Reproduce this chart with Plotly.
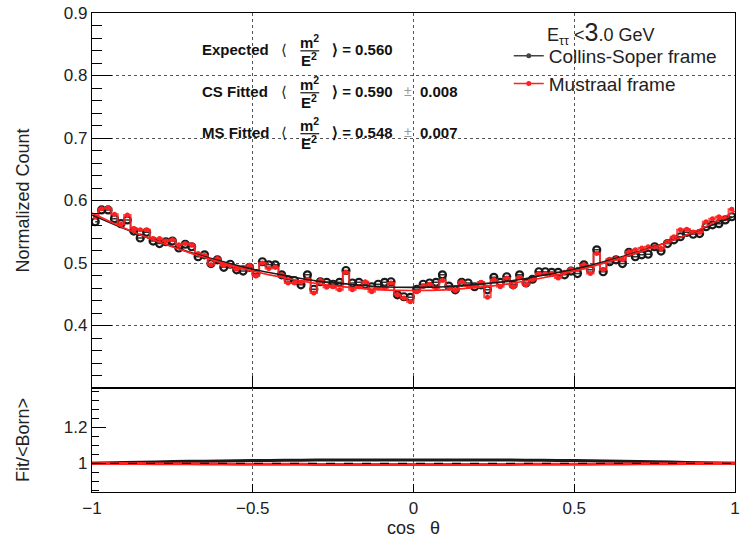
import numpy as np
import plotly.graph_objects as go

# ---------------- data ----------------
n_bins = 100
cs_counts = [0.566, 0.585, 0.585, 0.571, 0.563, 0.569, 0.551, 0.540, 0.549, 0.535,
             0.531, 0.534, 0.535, 0.524, 0.530, 0.526, 0.510, 0.513, 0.499, 0.505,
             0.493, 0.498, 0.489, 0.487, 0.493, 0.483, 0.502, 0.497, 0.497, 0.481,
             0.473, 0.472, 0.465, 0.481, 0.458, 0.470, 0.469, 0.466, 0.469, 0.488,
             0.468, 0.469, 0.465, 0.462, 0.466, 0.469, 0.470, 0.449, 0.446, 0.445,
             0.458, 0.466, 0.468, 0.469, 0.481, 0.463, 0.457, 0.469, 0.468, 0.462,
             0.465, 0.457, 0.477, 0.469, 0.478, 0.465, 0.481, 0.468, 0.474, 0.486,
             0.486, 0.485, 0.485, 0.481, 0.487, 0.483, 0.497, 0.489, 0.521, 0.486,
             0.502, 0.505, 0.499, 0.517, 0.510, 0.513, 0.514, 0.526, 0.519, 0.531,
             0.537, 0.542, 0.549, 0.546, 0.547, 0.558, 0.561, 0.563, 0.569, 0.574]
ms_counts = [0.574, 0.587, 0.588, 0.578, 0.562, 0.577, 0.555, 0.553, 0.553, 0.539,
             0.539, 0.535, 0.537, 0.529, 0.531, 0.529, 0.515, 0.512, 0.497, 0.507,
             0.496, 0.496, 0.490, 0.493, 0.496, 0.479, 0.500, 0.491, 0.493, 0.481,
             0.468, 0.468, 0.469, 0.474, 0.452, 0.472, 0.461, 0.462, 0.457, 0.485,
             0.457, 0.462, 0.470, 0.454, 0.460, 0.460, 0.468, 0.449, 0.444, 0.438,
             0.454, 0.463, 0.466, 0.460, 0.472, 0.461, 0.456, 0.470, 0.463, 0.463,
             0.469, 0.445, 0.473, 0.462, 0.476, 0.462, 0.477, 0.465, 0.473, 0.483,
             0.483, 0.483, 0.476, 0.485, 0.490, 0.490, 0.497, 0.483, 0.515, 0.489,
             0.506, 0.507, 0.505, 0.518, 0.521, 0.524, 0.526, 0.526, 0.523, 0.534,
             0.542, 0.553, 0.554, 0.549, 0.549, 0.566, 0.571, 0.574, 0.571, 0.586]

fit_x = [-1.0, -0.9, -0.8, -0.7, -0.6, -0.5, -0.4, -0.3, -0.2, -0.1, 0.0,
         0.1, 0.2, 0.3, 0.4, 0.5, 0.6, 0.7, 0.8, 0.9, 1.0]
cs_fit = [0.577, 0.555, 0.535, 0.518, 0.503, 0.490, 0.480, 0.471, 0.466, 0.462, 0.461,
          0.462, 0.466, 0.471, 0.480, 0.490, 0.503, 0.518, 0.535, 0.555, 0.575]
ms_fit = [0.580, 0.556, 0.535, 0.517, 0.501, 0.487, 0.476, 0.467, 0.461, 0.457, 0.456,
          0.457, 0.461, 0.467, 0.476, 0.487, 0.501, 0.517, 0.535, 0.556, 0.583]
cs_ratio = [1.000, 1.004, 1.008, 1.011, 1.013, 1.015, 1.017, 1.018, 1.019, 1.019, 1.019,
            1.019, 1.019, 1.018, 1.017, 1.015, 1.013, 1.010, 1.007, 1.003, 1.000]
ms_ratio = [1.000, 0.999, 0.998, 0.997, 0.996, 0.995, 0.995, 0.994, 0.994, 0.994, 0.994,
            0.994, 0.994, 0.994, 0.995, 0.995, 0.996, 0.997, 0.998, 0.999, 1.000]

x_ticks = [-1, -0.5, 0, 0.5, 1]
y_ticks_top = [0.4, 0.5, 0.6, 0.7, 0.8, 0.9]
y_ticks_bot = [1, 1.2]

edges = np.linspace(-1, 1, n_bins + 1)
centers = 0.5 * (edges[:-1] + edges[1:])

BLACK = "#1a1a1a"
RED = "#ff2020"
FONT = "Liberation Sans, Arial, sans-serif"
GRID = "#555555"

fig = go.Figure()

# histograms (steps + markers)
fig.add_trace(go.Scatter(x=centers, y=cs_counts, mode="lines+markers", line_shape="hvh",
                         line=dict(color="#333333", width=1.5),
                         marker=dict(symbol="circle-open", size=7, color=BLACK, line=dict(width=2.2)),
                         showlegend=False, xaxis="x", yaxis="y"))
fig.add_trace(go.Scatter(x=centers, y=ms_counts, mode="lines+markers", line_shape="hvh",
                         line=dict(color="rgba(255,40,40,0.85)", width=2),
                         marker=dict(symbol="circle", size=5, color=RED),
                         showlegend=False, xaxis="x", yaxis="y"))
# fits
fig.add_trace(go.Scatter(x=fit_x, y=cs_fit, mode="lines", line=dict(color=BLACK, width=1.6, shape="spline"),
                         showlegend=False, xaxis="x", yaxis="y"))
fig.add_trace(go.Scatter(x=fit_x, y=ms_fit, mode="lines", line=dict(color=RED, width=1.6, shape="spline"),
                         showlegend=False, xaxis="x", yaxis="y"))
# legend entries
fig.add_trace(go.Scatter(x=[None], y=[None], mode="lines+markers", name="Collins-Soper frame",
                         line=dict(color="#444444", width=1.5), marker=dict(size=5, color="#444444"),
                         xaxis="x", yaxis="y"))
fig.add_trace(go.Scatter(x=[None], y=[None], mode="lines+markers", name="Mustraal frame",
                         line=dict(color=RED, width=1.5), marker=dict(size=5, color=RED),
                         xaxis="x", yaxis="y"))

# ratio panel
fig.add_trace(go.Scatter(x=fit_x, y=cs_ratio, mode="lines", line=dict(color=BLACK, width=3, shape="spline"),
                         showlegend=False, xaxis="x2", yaxis="y2"))
fig.add_trace(go.Scatter(x=fit_x, y=ms_ratio, mode="lines", line=dict(color=RED, width=3, shape="spline"),
                         showlegend=False, xaxis="x2", yaxis="y2"))
fig.add_trace(go.Scatter(x=[-1, 1], y=[1, 1], mode="lines", line=dict(color="black", width=1.3, dash="dash"),
                         showlegend=False, xaxis="x2", yaxis="y2"))

split = 104 / 479

axis_common = dict(showline=True, linecolor="black", linewidth=1.2, mirror=True, zeroline=False,
                   tickfont=dict(family=FONT, size=17, color="#222"))
title_font = dict(family=FONT, size=18, color="#222")

fig.update_layout(
    width=741, height=541,
    margin=dict(l=92, r=1, t=13, b=49),
    paper_bgcolor="white", plot_bgcolor="white",
    font=dict(family=FONT, color="#222"),
    xaxis=dict(domain=[0, 1], anchor="y", range=[-1, 1], tickvals=x_ticks, showticklabels=False,
               ticks="inside", ticklen=12, tickcolor="black",
               showgrid=True, griddash="dot", gridcolor=GRID, gridwidth=1, **axis_common),
    yaxis=dict(domain=[split, 1], anchor="x", range=[0.3, 0.9], tickvals=y_ticks_top,
               ticktext=[f"{v:.1f}" for v in y_ticks_top],
               ticks="inside", ticklen=20, tickcolor="black",
               minor=dict(dtick=0.02, tick0=0.3, ticks="inside", ticklen=10, tickcolor="black", showgrid=False),
               showgrid=True, griddash="dot", gridcolor=GRID, gridwidth=1,
               title=dict(text="Normalized Count", font=title_font, standoff=29),
               **axis_common),
    xaxis2=dict(domain=[0, 1], anchor="y2", range=[-1, 1], tickvals=x_ticks,
                ticktext=["\u22121", "\u22120.5", "0", "0.5", "1"], ticklabeloverflow="allow",
                ticks="inside", ticklen=8, tickcolor="black",
                showgrid=True, griddash="dot", gridcolor=GRID, gridwidth=1,
                title=dict(text="cos   \u03b8", font=title_font, standoff=4),
                **axis_common),
    yaxis2=dict(domain=[0, split], anchor="x2", range=[0.84, 1.42], tickvals=y_ticks_bot,
                ticktext=["1", "1.2"],
                ticks="inside", ticklen=14, tickcolor="black",
                minor=dict(dtick=0.05, tick0=0.8, ticks="inside", ticklen=7, tickcolor="black", showgrid=False),
                showgrid=False,
                title=dict(text="Fit/&lt;Born&gt;", font=title_font, standoff=29),
                **axis_common),
    legend=dict(x=(512 - 92) / 648, y=(492 - 37) / 479, xanchor="left", yanchor="top",
                bgcolor="rgba(0,0,0,0)", font=dict(family=FONT, size=19, color="#222"),
                tracegroupgap=0, itemwidth=30),
)

# Text block with fractions
def px2x(px):
    return (px - 92) / 324.0 - 1

def py2y(py):
    return 0.5 + (263 - py) / 626.0

bold = dict(family="Liberation Sans, Arial, sans-serif", size=15, color="#111")
rows = [("Expected", "0.560", None, 49),
        ("CS Fitted", "0.590", "0.008", 91),
        ("MS Fitted", "0.548", "0.007", 132)]
ann = []
shapes = []
for label, val, err, yc in rows:
    ann.append(dict(x=px2x(201), y=py2y(yc), text=f"<b>{label}</b>", xanchor="left", yanchor="middle",
                    showarrow=False, font=bold, xref="x", yref="y"))
    ann.append(dict(x=px2x(285), y=py2y(yc), text="\u27e8", xanchor="center", yanchor="middle",
                    showarrow=False, font=dict(family=FONT, size=15, color="#222"), xref="x", yref="y"))
    ann.append(dict(x=px2x(311), y=py2y(yc - 8), text="<b>m<sup>2</sup></b>", xanchor="center", yanchor="middle",
                    showarrow=False, font=bold, xref="x", yref="y"))
    ann.append(dict(x=px2x(311), y=py2y(yc + 10), text="<b>E<sup>2</sup></b>", xanchor="center", yanchor="middle",
                    showarrow=False, font=bold, xref="x", yref="y"))
    shapes.append(dict(type="line", xref="x", yref="y", x0=px2x(302), x1=px2x(321),
                       y0=py2y(yc + 1.5), y1=py2y(yc + 1.5), line=dict(color="#111", width=1.2)))
    ann.append(dict(x=px2x(332), y=py2y(yc), text=f"<b>\u27e9 = {val}</b>", xanchor="left", yanchor="middle",
                    showarrow=False, font=bold, xref="x", yref="y"))
    if err is not None:
        ann.append(dict(x=px2x(410), y=py2y(yc), text="\u00b1", xanchor="center", yanchor="middle",
                        showarrow=False, font=dict(family=FONT, size=14, color="#999"), xref="x", yref="y"))
        ann.append(dict(x=px2x(421), y=py2y(yc), text=f"<b>{err}</b>", xanchor="left", yanchor="middle",
                        showarrow=False, font=bold, xref="x", yref="y"))

# legend header
ann.append(dict(x=(549 - 92) / 648, y=(492 - 33) / 479, xref="paper", yref="paper",
                text="E<sub>\u03c4\u03c4</sub>&nbsp;&lt;<span style='font-size:25px'>3</span>.0 GeV",
                xanchor="left", yanchor="middle", showarrow=False,
                font=dict(family=FONT, size=18, color="#222")))

fig.update_layout(annotations=ann, shapes=shapes)

fig.write_html("out.html")
